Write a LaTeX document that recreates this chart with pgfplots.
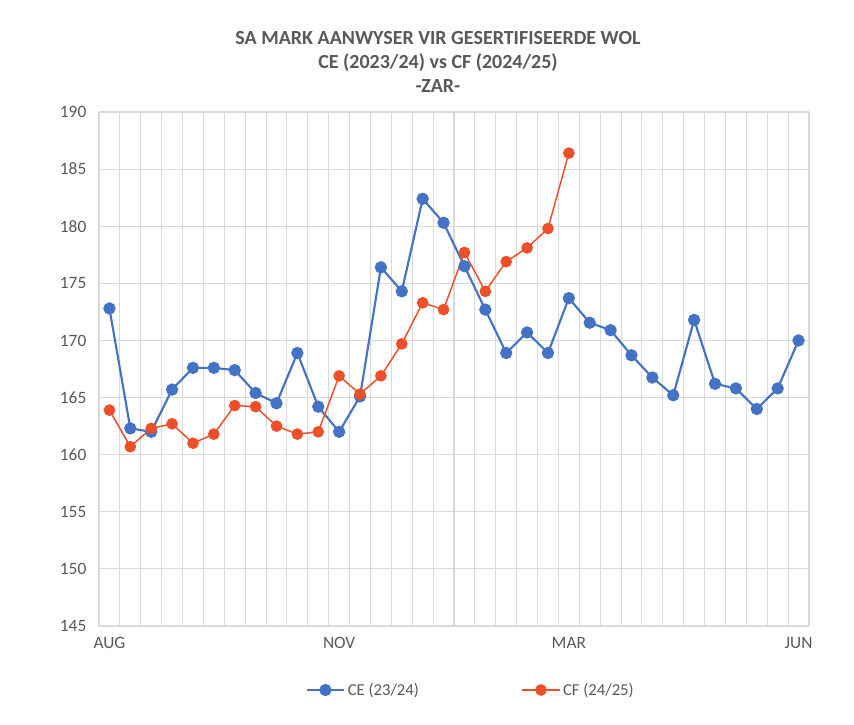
\documentclass[border=0pt]{standalone}
\usepackage{pgfplots}
\pgfplotsset{compat=1.18}
\usepackage{fontspec}
\setmainfont{Carlito}
\definecolor{ceblue}{RGB}{68,114,196}
\definecolor{cfred}{RGB}{238,78,40}
\definecolor{txt}{RGB}{89,89,89}
\definecolor{grd}{RGB}{217,217,217}
\begin{document}
\begin{tikzpicture}
\path[use as bounding box,fill=white] (0pt,0pt) rectangle (640.5pt,543.75pt);
\node[font=\bfseries\fontsize{15}{18}\selectfont,text=txt,align=center,anchor=center] at (328.5pt,497.25pt) {SA MARK AANWYSER VIR GESERTIFISEERDE WOL\\CE (2023/24) vs CF (2024/25)\\-ZAR-};
\begin{axis}[
  at={(74.25pt,74.25pt)}, anchor=south west,
  scale only axis, width=532.5pt, height=385.5pt,
  xmin=-0.5, xmax=33.5, ymin=145, ymax=190,
  ytick={145,150,155,160,165,170,175,180,185,190},
  xtick={0,11,22,33}, xticklabels={AUG,NOV,MAR,JUN},
  minor xtick={-0.5,0.5,1.5,2.5,3.5,4.5,5.5,6.5,7.5,8.5,9.5,10.5,11.5,12.5,13.5,14.5,15.5,16.5,17.5,18.5,19.5,20.5,21.5,22.5,23.5,24.5,25.5,26.5,27.5,28.5,29.5,30.5,31.5,32.5,33.5},
  xminorgrids, ymajorgrids,
  grid style={grd, line width=0.8pt},
  minor grid style={grd, line width=0.8pt},
  axis line style={draw=none},
  major tick length=0pt, minor tick length=0pt,
  tick label style={font=\fontsize{13}{15}\selectfont, text=txt},
  /pgf/number format/assume math mode=true,
  yticklabel style={xshift=-6pt},
  xticklabel style={yshift=-5pt},
  legend columns=2,
  legend style={draw=none, fill=none, at={(0.524,-0.1245)}, anchor=center,
    font=\fontsize{12.5}{14}\selectfont, text=txt,
    /tikz/every even column/.append style={column sep=75pt}},
  legend image code/.code={\draw[#1] (0pt,0pt) -- (28pt,0pt); \draw[#1,mark repeat=2,mark phase=2] plot coordinates {(0pt,0pt) (14pt,0pt) (28pt,0pt)};},
]
\draw[grd, line width=0.8pt] (axis cs:-0.5,145) -- (axis cs:33.5,145);
\addplot[ceblue, line width=1.6pt, mark=*, mark size=3.8pt, mark options={fill=ceblue,draw=ceblue}] coordinates {
(0,172.8)(1,162.3)(2,162.0)(3,165.7)(4,167.6)(5,167.6)(6,167.4)(7,165.4)(8,164.5)(9,168.9)
(10,164.2)(11,162.0)(12,165.1)(13,176.4)(14,174.3)(15,182.4)(16,180.3)(17,176.5)(18,172.7)(19,168.9)
(20,170.7)(21,168.9)(22,173.7)(23,171.55)(24,170.9)(25,168.7)(26,166.75)(27,165.2)(28,171.8)(29,166.2)
(30,165.8)(31,164.0)(32,165.8)(33,170.0)};
\addlegendentry{CE (23/24)}
\addplot[cfred, line width=1.1pt, mark=*, mark size=3.8pt, mark options={fill=cfred,draw=cfred}] coordinates {
(0,163.9)(1,160.7)(2,162.3)(3,162.7)(4,161.0)(5,161.8)(6,164.3)(7,164.2)(8,162.5)(9,161.8)
(10,162.0)(11,166.9)(12,165.3)(13,166.9)(14,169.7)(15,173.3)(16,172.7)(17,177.7)(18,174.3)(19,176.9)
(20,178.1)(21,179.8)(22,186.4)};
\addlegendentry{CF (24/25)}
\end{axis}
\end{tikzpicture}
\end{document}
